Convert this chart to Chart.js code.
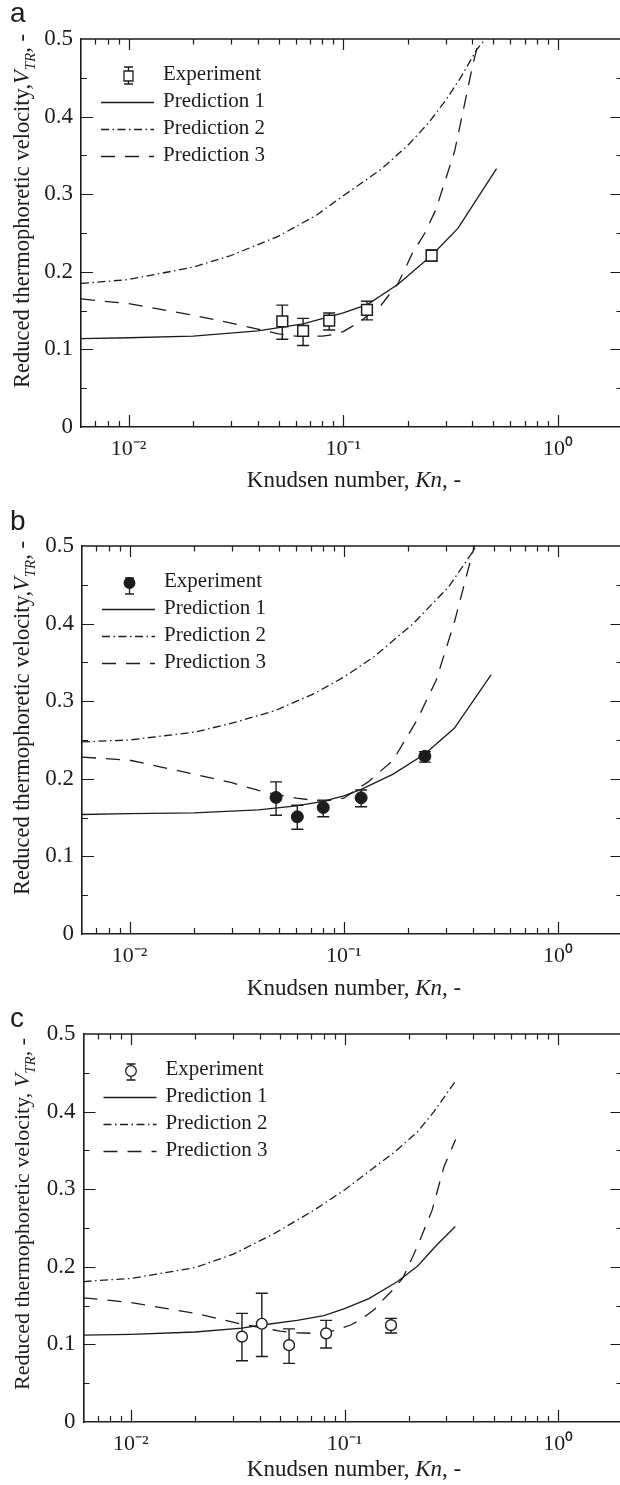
<!DOCTYPE html>
<html><head><meta charset="utf-8">
<script src="https://cdn.jsdelivr.net/npm/chart.js@4/dist/chart.umd.min.js"></script>
<style>
html,body{margin:0;padding:0;background:#fff;overflow:hidden;width:620px;height:1485px;}
#wrap{position:relative;width:620px;height:1485px;overflow:hidden;background:#fff;}
.panel{position:absolute;left:0;width:640px;height:500px;}
canvas{display:block;}
</style></head><body><div id="wrap">
<div class="panel" style="top:0px"><canvas id="ca" width="640" height="500"></canvas></div>
<div class="panel" style="top:507px"><canvas id="cb" width="640" height="500"></canvas></div>
<div class="panel" style="top:995px"><canvas id="cc" width="640" height="500"></canvas></div>
</div>
<script>
// ---------- tick labels ----------
const xTickVals = [0.006,0.007,0.008,0.009,0.01,0.02,0.03,0.04,0.05,0.06,0.07,0.08,0.09,0.1,0.2,0.3,0.4,0.5,0.6,0.7,0.8,0.9,1,2];
const xLabelVals = [0.01, 0.1, 1];
const xLabelText = ['10\u207B\u00B2', '10\u207B\u00B9', '10\u2070'];
const yTickVals = [0,0.05,0.1,0.15,0.2,0.25,0.3,0.35,0.4,0.45,0.5];
const yLabelVals = [0,0.1,0.2,0.3,0.4,0.5];
const yLabelText = ['0','0.1','0.2','0.3','0.4','0.5'];
const legendText = ['Experiment','Prediction 1','Prediction 2','Prediction 3'];
const panelLetters = ['a','b','c'];

// ---------- panel a ----------
const knExpA = [0.052, 0.065, 0.086, 0.129, 0.258];
const vExpA  = [0.136, 0.124, 0.137, 0.151, 0.221];
const vHiA   = [0.157, 0.140, 0.147, 0.162, 0.228];
const vLoA   = [0.113, 0.105, 0.125, 0.138, 0.214];
const knP1A = [0.006, 0.01, 0.02, 0.04, 0.065, 0.1, 0.13, 0.18, 0.258, 0.342, 0.518];
const vP1A  = [0.114, 0.115, 0.117, 0.124, 0.133, 0.147, 0.158, 0.184, 0.221, 0.256, 0.333];
const knP2A = [0.006, 0.01, 0.02, 0.03, 0.05, 0.075, 0.1, 0.15, 0.2, 0.25, 0.3, 0.35, 0.42, 0.46];
const vP2A  = [0.185, 0.190, 0.206, 0.221, 0.246, 0.273, 0.298, 0.332, 0.363, 0.392, 0.421, 0.449, 0.487, 0.500];
const knP3A = [0.006, 0.01, 0.02, 0.03, 0.04, 0.05, 0.06, 0.07, 0.08, 0.09, 0.1, 0.12, 0.15, 0.18, 0.21, 0.24, 0.27, 0.33, 0.37, 0.40, 0.43];
const vP3A  = [0.165, 0.159, 0.144, 0.134, 0.126, 0.120, 0.117, 0.117, 0.117, 0.119, 0.123, 0.136, 0.157, 0.185, 0.224, 0.250, 0.280, 0.355, 0.420, 0.465, 0.500];

// ---------- panel b ----------
const knExpB = [0.0483, 0.0607, 0.0802, 0.1205, 0.239];
const vExpB  = [0.176, 0.151, 0.163, 0.1755, 0.229];
const vHiB   = [0.196, 0.166, 0.1725, 0.1855, 0.235];
const vLoB   = [0.153, 0.135, 0.151, 0.164, 0.2215];
const knP1B = [0.006, 0.01, 0.02, 0.04, 0.06, 0.08, 0.1, 0.12, 0.17, 0.239, 0.328, 0.487];
const vP1B  = [0.154, 0.155, 0.156, 0.160, 0.165, 0.171, 0.178, 0.186, 0.206, 0.232, 0.265, 0.334];
const knP2B = [0.006, 0.01, 0.0205, 0.0313, 0.0479, 0.073, 0.1, 0.138, 0.211, 0.308, 0.415];
const vP2B  = [0.2476, 0.250, 0.2605, 0.273, 0.288, 0.310, 0.331, 0.357, 0.400, 0.447, 0.499];
const knP3B = [0.006, 0.01, 0.02, 0.03, 0.04, 0.05, 0.06, 0.08, 0.1, 0.13, 0.17, 0.22, 0.27, 0.33, 0.38, 0.407];
const vP3B  = [0.228, 0.224, 0.206, 0.195, 0.185, 0.179, 0.175, 0.171, 0.175, 0.196, 0.224, 0.276, 0.327, 0.404, 0.469, 0.500];

// ---------- panel c ----------
const knExpC = [0.0331, 0.041, 0.055, 0.082, 0.165];
const vExpC  = [0.110, 0.1266, 0.099, 0.1142, 0.1248];
const vHiC   = [0.140, 0.166, 0.120, 0.131, 0.1335];
const vLoC   = [0.079, 0.0845, 0.0755, 0.0953, 0.1146];
const knP1C = [0.006, 0.01, 0.02, 0.033, 0.041, 0.06, 0.08, 0.1, 0.13, 0.177, 0.22, 0.27, 0.33];
const vP1C  = [0.112, 0.113, 0.116, 0.121, 0.125, 0.131, 0.137, 0.146, 0.159, 0.181, 0.201, 0.228, 0.252];
const knP2C = [0.006, 0.01, 0.02, 0.03, 0.047, 0.072, 0.1, 0.136, 0.17, 0.22, 0.262, 0.33];
const vP2C  = [0.181, 0.185, 0.199, 0.216, 0.243, 0.273, 0.299, 0.327, 0.347, 0.374, 0.400, 0.439];
const knP3C = [0.006, 0.01, 0.02, 0.033, 0.042, 0.05, 0.06, 0.075, 0.09, 0.107, 0.122, 0.138, 0.151, 0.168, 0.187, 0.21, 0.223, 0.257, 0.292, 0.331];
const vP3C  = [0.160, 0.154, 0.140, 0.126, 0.121, 0.117, 0.115, 0.114, 0.118, 0.125, 0.134, 0.145, 0.157, 0.170, 0.185, 0.215, 0.231, 0.273, 0.329, 0.364];

// ---------- styles ----------
const SERIF = "'Liberation Serif','Times New Roman',serif";
const SANS = "'Liberation Sans',Arial,sans-serif";
const INK = '#1c1c1c';
const LW = 1.3, FW = 1.6;
const DASH_P1 = [], DASH_P2 = [8, 3.5, 1.5, 3.5], DASH_P3 = [14, 10];
const W = 640, H = 500, TOP = 39, BOTTOM = 427, RIGHT = 622.5;
const TITLE_SIZE = 23;

const pts = (xs, ys) => xs.map((x, i) => ({x: x, y: ys[i]}));
function labelFor(v, vals, texts) {
  for (let i = 0; i < vals.length; i++) {
    const r = vals[i];
    if ((r === 0 && Math.abs(v) < 1e-9) || (r !== 0 && Math.abs(v / r - 1) < 1e-6)) return texts[i];
  }
  return '';
}
const isPow10 = v => Math.abs(Math.log10(v) - Math.round(Math.log10(v))) < 1e-6;
const isTenth = v => Math.abs(v * 10 - Math.round(v * 10)) < 1e-6;

function fontFor(p, size) {
  return (p.italic ? 'italic ' : '') + (p.sub ? Math.round(size * 0.68) : size) + 'px ' + SERIF;
}
function richWidth(ctx, parts, size) {
  let w = 0;
  for (const p of parts) { ctx.font = fontFor(p, size); w += ctx.measureText(p.t).width; }
  return w;
}
function drawRich(ctx, parts, x, y, size) {
  for (const p of parts) {
    ctx.font = fontFor(p, size);
    ctx.fillText(p.t, x, y + (p.sub ? size * 0.28 : 0));
    x += ctx.measureText(p.t).width;
  }
}

const framePlugin = {
  id: 'frameTicks',
  afterDraw(chart) {
    const {ctx, chartArea: {left, right, top, bottom}, scales: {x, y}} = chart;
    ctx.save();
    ctx.strokeStyle = INK;
    ctx.lineWidth = FW;
    ctx.beginPath();
    ctx.moveTo(left, top); ctx.lineTo(right, top); ctx.lineTo(right, bottom);
    ctx.stroke();
    ctx.lineWidth = 1.2;
    ctx.beginPath();
    for (const t of x.ticks) {
      const px = Math.round(x.getPixelForValue(t.value)) + 0.5;
      if (px <= left + 2 || px >= right - 1) continue;
      const maj = isPow10(t.value);
      ctx.moveTo(px, bottom); ctx.lineTo(px, bottom - (maj ? 12 : 6));
      ctx.moveTo(px, top); ctx.lineTo(px, top + (maj ? 11 : 5.5));
    }
    for (const t of y.ticks) {
      const py = Math.round(y.getPixelForValue(t.value)) + 0.5;
      if (py <= top + 2 || py >= bottom - 2) continue;
      const maj = isTenth(t.value);
      ctx.moveTo(left, py); ctx.lineTo(left + (maj ? 12 : 6), py);
      ctx.moveTo(right, py); ctx.lineTo(right - (maj ? 12 : 6), py);
    }
    ctx.stroke();
    ctx.restore();
  }
};

const errorBarPlugin = {
  id: 'errorBars',
  beforeDatasetDraw(chart, args) {
    if (args.index !== 0) return;
    const ds = chart.data.datasets[0];
    const {ctx, scales: {x, y}} = chart;
    ctx.save();
    ctx.strokeStyle = INK;
    ctx.lineWidth = 1.4;
    ctx.beginPath();
    ds.data.forEach((d, i) => {
      const px = x.getPixelForValue(d.x);
      const ph = y.getPixelForValue(ds.errHi[i]);
      const pl = y.getPixelForValue(ds.errLo[i]);
      ctx.moveTo(px, ph); ctx.lineTo(px, pl);
      ctx.moveTo(px - 6, ph); ctx.lineTo(px + 6, ph);
      ctx.moveTo(px - 6, pl); ctx.lineTo(px + 6, pl);
    });
    ctx.stroke();
    ctx.restore();
  }
};

const decorPlugin = {
  id: 'decor',
  afterDraw(chart, args, o) {
    const {ctx, chartArea: {left, top, bottom}} = chart;
    const dsets = chart.data.datasets;
    ctx.save();
    ctx.fillStyle = INK;
    ctx.strokeStyle = INK;
    // panel letter
    ctx.font = '28px ' + SANS;
    ctx.textAlign = 'left';
    ctx.textBaseline = 'alphabetic';
    ctx.fillText(o.letter, 10, o.letterY);
    // legend
    const rows = [35, 62.5, 89.5, 116.5];
    ctx.font = '21px ' + SERIF;
    ctx.textBaseline = 'middle';
    legendText.forEach((t, i) => ctx.fillText(t, left + 82, top + rows[i]));
    // experiment symbol
    const sx = left + 47.5, sy = top + 37;
    ctx.lineWidth = 1.3;
    ctx.beginPath();
    ctx.moveTo(sx, sy + o.symTop); ctx.lineTo(sx, sy + o.symBot);
    ctx.moveTo(sx - 4.5, sy + o.symTop); ctx.lineTo(sx + 4.5, sy + o.symTop);
    ctx.moveTo(sx - 4.5, sy + o.symBot); ctx.lineTo(sx + 4.5, sy + o.symBot);
    ctx.stroke();
    const e = dsets[0];
    ctx.beginPath();
    if (e.pointStyle === 'rect') ctx.rect(sx - 4.5, sy - 5, 9, 10);
    else ctx.arc(sx, sy, 5.3, 0, Math.PI * 2);
    ctx.fillStyle = e.pointBackgroundColor; ctx.fill();
    ctx.lineWidth = 1.3; ctx.stroke();
    ctx.fillStyle = INK;
    // line samples
    for (let i = 1; i <= 3; i++) {
      ctx.beginPath();
      ctx.setLineDash(dsets[i].borderDash || []);
      ctx.lineWidth = LW;
      ctx.moveTo(left + 20, top + rows[i] + 1); ctx.lineTo(left + 73, top + rows[i] + 1);
      ctx.stroke();
    }
    ctx.setLineDash([]);
    // x title
    ctx.textBaseline = 'alphabetic';
    const xw = richWidth(ctx, o.xTitle, TITLE_SIZE);
    drawRich(ctx, o.xTitle, 354 - xw / 2, bottom + o.xTitleDy, TITLE_SIZE);
    // y title
    ctx.save();
    ctx.translate(29, top + o.yTitleMid);
    ctx.rotate(-Math.PI / 2);
    const yw = richWidth(ctx, o.yTitle, o.yTitleSize);
    drawRich(ctx, o.yTitle, -yw / 2, 0, o.yTitleSize);
    ctx.restore();
    ctx.restore();
  }
};

const xTitleParts = [{t: 'Knudsen number, '}, {t: 'Kn', italic: true}, {t: ', -'}];
const yTitleAB = [{t: 'Reduced thermophoretic velocity,'}, {t: 'V', italic: true}, {t: 'TR', italic: true, sub: true}, {t: ', -'}];
const yTitleC = [{t: 'Reduced thermophoretic velocity, '}, {t: 'V', italic: true}, {t: 'TR', italic: true, sub: true}, {t: ', -'}];

function makeChart(cfg) {
  const ctx = document.getElementById(cfg.canvas).getContext('2d');
  return new Chart(ctx, {
    type: 'scatter',
    data: {datasets: [
      {label: legendText[0], data: pts(cfg.kn, cfg.v), errHi: cfg.hi, errLo: cfg.lo, showLine: false,
       pointStyle: cfg.style, pointRadius: cfg.r, pointHoverRadius: cfg.r, pointBackgroundColor: cfg.fill,
       backgroundColor: cfg.fill, pointBorderColor: INK, borderColor: INK, pointBorderWidth: cfg.bw},
      {label: legendText[1], data: pts(cfg.k1, cfg.v1), showLine: true, pointRadius: 0, borderColor: INK, borderWidth: LW, borderDash: DASH_P1, tension: 0},
      {label: legendText[2], data: pts(cfg.k2, cfg.v2), showLine: true, pointRadius: 0, borderColor: INK, borderWidth: LW, borderDash: DASH_P2, tension: 0},
      {label: legendText[3], data: pts(cfg.k3, cfg.v3), showLine: true, pointRadius: 0, borderColor: INK, borderWidth: LW, borderDash: DASH_P3, tension: 0}
    ]},
    options: {
      responsive: false, animation: false, devicePixelRatio: 1, events: [],
      layout: {padding: {top: TOP, right: W - RIGHT, left: 0, bottom: 0}},
      plugins: {
        legend: {display: false}, tooltip: {enabled: false},
        decor: {letter: cfg.letter, letterY: cfg.letterY, xTitleDy: cfg.xTitleDy, xTitle: xTitleParts, yTitle: cfg.yTitle,
                yTitleMid: cfg.yTitleMid, yTitleSize: cfg.yTitleSize, symTop: cfg.symTop, symBot: cfg.symBot}
      },
      scales: {
        x: {type: 'logarithmic', position: 'bottom', min: 0.006, max: 2,
            afterBuildTicks: s => { s.ticks = xTickVals.map(v => ({value: v})); },
            afterFit: s => { s.height = H - BOTTOM; },
            grid: {display: false, drawTicks: false},
            border: {display: true, color: INK, width: FW},
            ticks: {autoSkip: false, maxRotation: 0, minRotation: 0, padding: 9, color: INK,
                    font: {family: SERIF, size: 22}, callback: v => labelFor(v, xLabelVals, xLabelText)}},
        y: {type: 'linear', position: 'left', min: 0, max: 0.5,
            afterBuildTicks: s => { s.ticks = yTickVals.map(v => ({value: v})); },
            afterFit: s => { s.width = cfg.left; },
            grid: {display: false, drawTicks: false},
            border: {display: true, color: INK, width: FW},
            ticks: {autoSkip: false, padding: 8, color: INK,
                    font: {family: SERIF, size: 23}, callback: v => labelFor(v, yLabelVals, yLabelText)}}
      }
    },
    plugins: [framePlugin, errorBarPlugin, decorPlugin]
  });
}

makeChart({canvas: 'ca', letter: panelLetters[0], letterY: 22, left: 81, xTitleDy: 60, yTitle: yTitleAB, yTitleMid: 172, yTitleSize: 22.5,
  kn: knExpA, v: vExpA, hi: vHiA, lo: vLoA, style: 'rect', r: 7.6, fill: '#ffffff', bw: 1.5, symTop: -9, symBot: 8,
  k1: knP1A, v1: vP1A, k2: knP2A, v2: vP2A, k3: knP3A, v3: vP3A});
makeChart({canvas: 'cb', letter: panelLetters[1], letterY: 23, left: 82, xTitleDy: 61, yTitle: yTitleAB, yTitleMid: 172, yTitleSize: 22.5,
  kn: knExpB, v: vExpB, hi: vHiB, lo: vLoB, style: 'circle', r: 6, fill: '#1c1c1c', bw: 1, symTop: -5, symBot: 11,
  k1: knP1B, v1: vP1B, k2: knP2B, v2: vP2B, k3: knP3B, v3: vP3B});
makeChart({canvas: 'cc', letter: panelLetters[2], letterY: 32, left: 83.5, xTitleDy: 54, yTitle: yTitleC, yTitleMid: 180, yTitleSize: 22,
  kn: knExpC, v: vExpC, hi: vHiC, lo: vLoC, style: 'circle', r: 5.4, fill: '#ffffff', bw: 1.4, symTop: -7, symBot: 9,
  k1: knP1C, v1: vP1C, k2: knP2C, v2: vP2C, k3: knP3C, v3: vP3C});
</script>
</body></html>
